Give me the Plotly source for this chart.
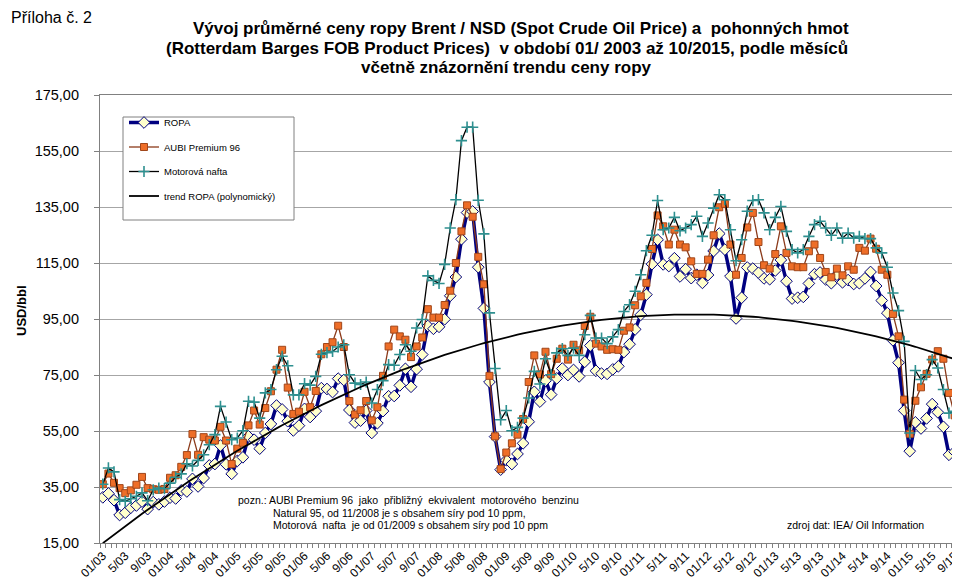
import numpy as np
import plotly.graph_objects as go

# ---------------- data ----------------
years = list(range(2003, 2016))
months_last_year = 10

ropa = [
    31.3, 32.7, 30.3, 25.0, 25.8, 27.6, 28.4, 29.8, 27.1, 29.6, 28.8, 29.8,
    31.2, 30.9, 33.8, 33.4, 37.9, 35.2, 38.2, 42.7, 43.2, 49.8, 43.1, 39.7,
    44.3, 45.6, 53.1, 51.9, 48.7, 54.3, 57.5, 64.1, 62.7, 58.5, 55.2, 56.9,
    62.9, 60.0, 62.1, 70.3, 70.0, 68.9, 73.7, 73.2, 62.5, 58.0, 58.7, 62.3,
    54.3, 57.8, 62.1, 67.4, 67.5, 71.3, 77.2, 70.8, 77.1, 82.3, 92.5, 91.5,
    92.2, 94.9, 103.3, 110.0, 123.5, 133.0, 133.4, 113.5, 98.8, 72.5, 53.0, 41.2,
    44.6, 43.2, 46.8, 50.6, 58.3, 69.0, 65.5, 73.0, 68.0, 73.8, 77.3, 75.0,
    76.8, 74.5, 79.7, 85.5, 76.5, 75.5, 75.4, 77.0, 78.1, 83.2, 86.0, 91.3,
    96.5, 103.7, 114.6, 123.3, 114.5, 113.9, 116.7, 110.2, 112.8, 109.6, 110.8, 107.9,
    110.7, 119.3, 125.5, 119.8, 110.3, 95.2, 102.6, 113.4, 113.0, 111.5, 109.5, 109.2,
    112.3, 116.1, 108.5, 102.3, 102.6, 102.9, 107.7, 111.0, 111.6, 109.1, 107.8, 110.8,
    108.1, 108.9, 107.5, 107.8, 109.5, 111.8, 106.8, 101.6, 97.1, 87.4, 79.4, 62.3,
    47.8, 58.1, 55.9, 59.5, 64.6, 61.7, 56.5, 46.5, 47.6, 48.4,
]

aubi = [
    36.0, 39.8, 36.5, 34.6, 32.8, 33.8, 35.8, 38.6, 34.6, 34.2, 34.0, 34.3,
    38.3, 39.2, 42.2, 46.4, 53.9, 46.5, 52.8, 51.9, 51.6, 56.5, 51.6, 43.2,
    48.7, 50.8, 57.0, 62.3, 57.3, 63.2, 69.2, 76.9, 84.0, 70.5, 61.1, 61.9,
    69.0, 63.5, 69.3, 82.4, 85.0, 86.7, 92.6, 85.0, 65.7, 60.9, 62.4, 65.7,
    58.8, 63.5, 74.7, 85.2, 91.2, 88.8, 87.6, 81.4, 85.2, 88.4, 98.5, 95.5,
    95.5, 100.0, 105.1, 115.0, 126.3, 135.6, 131.5, 117.2, 107.4, 74.7, 53.1, 41.4,
    47.3, 50.6, 53.7, 59.3, 72.5, 82.0, 75.2, 83.3, 75.3, 80.8, 84.4, 80.5,
    85.8, 83.8, 92.5, 95.8, 86.2, 85.2, 84.0, 84.2, 84.0, 90.8, 92.0, 99.9,
    103.1, 107.9, 120.0, 132.0, 128.1, 121.6, 126.9, 121.6, 120.6, 115.6, 111.1, 111.1,
    116.2, 124.9, 134.9, 136.1, 121.6, 110.8, 116.8, 127.7, 132.9, 122.5, 114.2, 113.0,
    118.2, 128.1, 118.6, 113.8, 113.5, 113.5, 119.2, 121.6, 116.8, 111.8, 109.9, 113.0,
    110.6, 113.8, 112.6, 120.4, 119.4, 123.7, 120.1, 112.6, 110.8, 96.8, 88.8, 66.2,
    54.0, 65.8, 70.6, 75.4, 80.5, 83.5, 80.8, 68.6, 60.6, 56.7,
]

nafta = [
    36.0, 41.8, 40.4, 30.5, 29.9, 30.8, 31.7, 32.9, 30.1, 34.0, 34.6, 34.4,
    36.4, 38.5, 39.7, 43.3, 42.5, 44.5, 46.5, 50.1, 53.7, 63.8, 58.2, 51.9,
    52.5, 55.1, 65.6, 65.3, 59.6, 68.6, 69.8, 76.9, 81.7, 78.3, 67.9, 67.9,
    71.9, 71.4, 74.5, 82.4, 83.0, 83.4, 85.0, 85.8, 75.1, 72.1, 71.6, 72.5,
    65.0, 69.8, 73.0, 78.7, 78.5, 82.3, 85.8, 83.5, 91.8, 94.8, 110.4, 108.8,
    107.7, 114.5, 127.5, 137.6, 158.7, 163.5, 163.5, 137.4, 125.4, 97.2, 77.3, 59.0,
    62.3, 55.1, 56.3, 59.6, 66.8, 76.3, 71.8, 80.8, 75.1, 82.9, 84.4, 82.0,
    84.6, 82.0, 89.4, 96.3, 88.2, 88.2, 86.2, 88.6, 91.2, 97.7, 100.1, 104.9,
    110.8, 119.4, 124.9, 137.3, 126.9, 127.5, 131.3, 126.5, 127.5, 128.7, 131.7, 124.5,
    129.3, 134.6, 139.4, 137.6, 126.9, 115.8, 123.3, 133.5, 137.3, 137.6, 132.9, 126.9,
    131.3, 135.2, 126.3, 119.8, 118.6, 119.8, 124.5, 128.7, 129.9, 127.5, 124.9, 127.5,
    123.9, 125.7, 123.9, 124.5, 123.7, 123.7, 120.4, 118.6, 113.5, 104.3, 98.0, 87.0,
    54.3, 76.6, 73.4, 75.1, 80.5, 77.5, 69.8, 61.4, 62.0, 59.9,
]

y_ticks = [15, 35, 55, 75, 95, 115, 135, 155, 175]

title_lines = [
    "Vývoj průměrné ceny ropy Brent / NSD (Spot Crude Oil Price) a  pohonných hmot",
    "(Rotterdam Barges FOB Product Prices)  v období 01/ 2003 až 10/2015, podle měsíců",
    "včetně znázornění trendu ceny ropy",
]
note_lines = [
    "pozn.: AUBI Premium 96  jako  přibližný  ekvivalent  motorového  benzinu",
    "Natural 95, od 11/2008 je s obsahem síry pod 10 ppm,",
    "Motorová  nafta  je od 01/2009 s obsahem síry pod 10 ppm",
]

# category labels: "01/03", "2/03", ..., "10/15"
months = []
for yr in years:
    last = months_last_year if yr == years[-1] else 12
    for m in range(1, last + 1):
        mm = "01" if m == 1 else str(m)
        months.append(f"{mm}/{yr % 100:02d}")

xi = list(range(len(months)))
coef = np.polyfit(np.arange(1, len(ropa) + 1), ropa, 2)
trend = np.polyval(coef, np.arange(1, len(ropa) + 1))

# ---------------- layout helpers ----------------
W, H = 960, 579
L, R, T, B = 92, 955, 87, 535


def px(x):
    return (x - L) / (R - L)


def py(y):
    return (B - y) / (B - T)


FONT = "Arial, Liberation Sans, sans-serif"

fig = go.Figure()
fig.add_trace(go.Scatter(
    x=xi, y=ropa, name="ROPA", mode="lines+markers", legendgroup="a",
    line=dict(color="#000080", width=3.5),
    marker=dict(symbol="diamond", size=9, color="#FFFFCC",
                line=dict(color="#000080", width=1)),
))
fig.add_trace(go.Scatter(
    x=xi, y=aubi, name="AUBI Premium 96", mode="lines+markers", legendgroup="b",
    line=dict(color="#8B3A1A", width=1.3),
    marker=dict(symbol="square", size=7, color="#EE6E28",
                line=dict(color="#A0461A", width=1)),
))
fig.add_trace(go.Scatter(
    x=xi, y=nafta, name="Motorová nafta", mode="lines+markers", legendgroup="c",
    line=dict(color="#000000", width=1.3),
    marker=dict(symbol="cross-thin", size=8,
                line=dict(color="#2E9090", width=1.6)),
))
fig.add_trace(go.Scatter(
    x=xi, y=trend, name="trend ROPA (polynomický)", mode="lines", legendgroup="d",
    line=dict(color="#000000", width=1.8),
))

# legend box
fig.add_shape(type="rect", xref="paper", yref="paper",
              x0=px(115), x1=px(286), y0=py(212), y1=py(109),
              fillcolor="white", line=dict(color="#808080", width=1), layer="above")

annotations = [
    dict(text="Příloha č. 2", x=px(1), y=py(9), xref="paper", yref="paper",
         showarrow=False, xanchor="left", yanchor="middle",
         font=dict(size=16, family=FONT, color="#000")),
    dict(text="<b>USD/bbl</b>", x=px(13), y=py(303), xref="paper", yref="paper",
         showarrow=False, textangle=-90, xanchor="center", yanchor="middle",
         font=dict(size=13, family=FONT, color="#000")),
    dict(text="zdroj dat: IEA/ Oil Information",
         x=px(777), y=py(517), xref="paper", yref="paper", showarrow=False,
         xanchor="left", yanchor="middle", font=dict(size=10.5, family=FONT, color="#000")),
]
for txt, xc, yc in zip(title_lines, [513, 499, 498], [20, 40, 59]):
    annotations.append(dict(
        text=f"<b>{txt}</b>", x=px(xc), y=py(yc), xref="paper", yref="paper",
        showarrow=False, xanchor="center", yanchor="middle",
        font=dict(size=17, family=FONT, color="#000")))
for txt, xl, yc in zip(note_lines, [228, 263, 263], [492, 505, 517]):
    annotations.append(dict(
        text=txt, x=px(xl), y=py(yc), xref="paper", yref="paper", showarrow=False,
        xanchor="left", yanchor="middle", font=dict(size=10.5, family=FONT, color="#000")))

fig.update_layout(
    width=W, height=H,
    margin=dict(l=L, r=W - R, t=T, b=H - B, autoexpand=False),
    paper_bgcolor="white", plot_bgcolor="white",
    separators=", ",
    font=dict(family=FONT, color="#000"),
    showlegend=True,
    legend=dict(x=px(116), y=py(100), xanchor="left", yanchor="top",
                bgcolor="rgba(0,0,0,0)", borderwidth=0,
                font=dict(size=9.5, family=FONT, color="#000"),
                tracegroupgap=5.5, itemwidth=30, traceorder="grouped"),
    annotations=annotations,
)

fig.update_yaxes(
    range=[15, 175], tickvals=y_ticks, tickformat=".2f",
    showgrid=True, gridcolor="#A6A6A6", gridwidth=1.3,
    zeroline=False, showline=True, linecolor="#808080", linewidth=1.2, mirror=True,
    ticks="outside", ticklen=5, tickcolor="#808080", ticklabelstandoff=12,
    tickfont=dict(size=14.5, family=FONT, color="#000"),
)
fig.update_xaxes(
    range=[-0.5, len(months) - 0.5],
    tickmode="array", tickvals=xi[::4], ticktext=months[::4], tickangle=-45,
    showgrid=False, zeroline=False, showline=True, linecolor="#808080", linewidth=1.2,
    mirror=True, ticks="",
    minor=dict(ticks="outside", tickmode="linear", tick0=-0.5, dtick=1, ticklen=4,
               tickcolor="#808080", showgrid=False),
    tickfont=dict(size=12, family=FONT, color="#000"),
)

fig.write_html("out.html")
